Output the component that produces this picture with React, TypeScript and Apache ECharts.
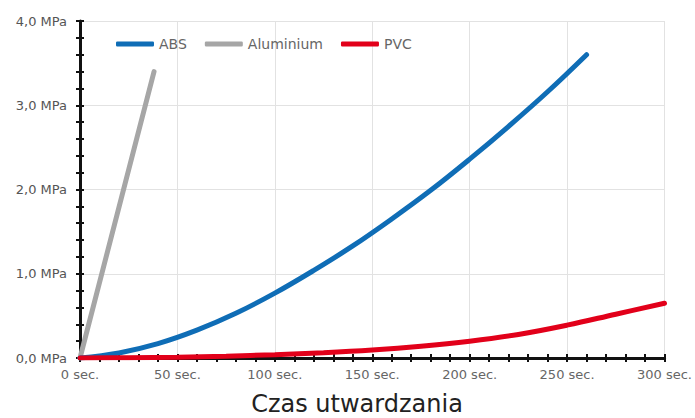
import React, { useEffect, useRef } from "react";
import * as echarts from "echarts";

const seriesNames = ["ABS", "Aluminium", "PVC"];
const seriesColors = ["#0f6db6", "#a6a6a6", "#e2001a"];

const absTime = [0, 20, 40, 60, 80, 100, 120, 140, 160, 180, 200, 220, 240, 260];
const absValues = [0, 0.06, 0.17, 0.33, 0.53, 0.77, 1.04, 1.33, 1.65, 1.99, 2.36, 2.75, 3.16, 3.6];

const aluTime = [0, 38];
const aluValues = [0, 3.4];

const pvcTime = [0, 25, 50, 75, 100, 125, 150, 175, 200, 225, 250, 275, 300];
const pvcValues = [0, 0.003, 0.01, 0.022, 0.04, 0.063, 0.095, 0.14, 0.2, 0.28, 0.39, 0.52, 0.65];

const xTickLabels = ["0 sec.", "50 sec.", "100 sec.", "150 sec.", "200 sec.", "250 sec.", "300 sec."];
const yTickLabels = ["0,0 MPa", "1,0 MPa", "2,0 MPa", "3,0 MPa", "4,0 MPa"];
const xAxisTitle = "Czas utwardzania";

const FONT = "DejaVu Sans";

const pairs = (xs: number[], ys: number[]) => xs.map((x, i) => [x, ys[i]]);

export default function App() {
  const ref = useRef<HTMLDivElement>(null);
  useEffect(() => {
    if (!ref.current) return;
    const chart = echarts.init(ref.current, null, { renderer: "svg" });
    const grid = { left: 80, right: 30, top: 21, bottom: 60 };
    const tickStyle = { color: "#111", width: 2 };
    chart.setOption({
      animation: false,
      backgroundColor: "#fff",
      grid,
      legend: {
        left: 111,
        top: 32,
        itemWidth: 38,
        itemHeight: 5,
        itemGap: 18,
        icon: "roundRect",
        data: seriesNames,
        textStyle: { fontFamily: FONT, fontSize: 14, color: "#666" },
      },
      graphic: [
        {
          type: "text",
          x: 357,
          y: 404,
          style: {
            text: xAxisTitle,
            fontFamily: FONT,
            fontSize: 24,
            lineHeight: 24,
            fill: "#222",
            align: "center",
            verticalAlign: "middle",
          },
        },
      ],
      xAxis: [
        {
          type: "value",
          min: 0,
          max: 300,
          interval: 50,
          axisLine: { show: true, lineStyle: { color: "#111", width: 3 } },
          axisTick: { show: true, inside: false, length: 4, lineStyle: tickStyle },
          minorTick: { show: true, splitNumber: 5, length: 4, lineStyle: tickStyle },
          splitLine: { show: true, lineStyle: { color: "#e2e2e2", width: 1 } },
          axisLabel: {
            margin: 10,
            fontFamily: FONT,
            fontSize: 13,
            color: "#666",
            formatter: (v: number) => xTickLabels[Math.round(v / 50)] ?? "",
          },
        },
        {
          type: "value",
          min: 0,
          max: 300,
          interval: 10,
          position: "bottom",
          axisLine: { show: false },
          axisTick: { show: true, inside: true, length: 4, lineStyle: tickStyle },
          splitLine: { show: false },
          axisLabel: { show: false },
        },
      ],
      yAxis: [
        {
          type: "value",
          min: 0,
          max: 4,
          interval: 1,
          axisLine: { show: true, lineStyle: { color: "#111", width: 3 } },
          axisTick: { show: true, inside: false, length: 4, lineStyle: tickStyle },
          minorTick: { show: true, splitNumber: 5, length: 4, lineStyle: tickStyle },
          splitLine: { show: true, lineStyle: { color: "#e2e2e2", width: 1 } },
          axisLabel: {
            margin: 13,
            fontFamily: FONT,
            fontSize: 13,
            color: "#555",
            formatter: (v: number) => yTickLabels[Math.round(v)] ?? "",
          },
        },
        {
          type: "value",
          min: 0,
          max: 4,
          interval: 0.2,
          position: "left",
          axisLine: { show: false },
          axisTick: { show: true, inside: true, length: 4, lineStyle: tickStyle },
          splitLine: { show: false },
          axisLabel: { show: false },
        },
      ],
      series: [
        {
          name: seriesNames[0],
          type: "line",
          smooth: 0.4,
          symbol: "none",
          data: pairs(absTime, absValues),
          color: seriesColors[0],
          lineStyle: { width: 5, color: seriesColors[0], cap: "round" },
          z: 3,
        },
        {
          name: seriesNames[1],
          type: "line",
          symbol: "none",
          data: pairs(aluTime, aluValues),
          color: seriesColors[1],
          lineStyle: { width: 5, color: seriesColors[1], cap: "round" },
          z: 2,
        },
        {
          name: seriesNames[2],
          type: "line",
          smooth: 0.4,
          symbol: "none",
          data: pairs(pvcTime, pvcValues),
          color: seriesColors[2],
          lineStyle: { width: 5, color: seriesColors[2], cap: "round" },
          z: 4,
        },
      ],
    });
    return () => chart.dispose();
  }, []);
  return (
    <div
      ref={ref}
      style={{ position: "absolute", left: 0, top: 0, width: 695, height: 418, background: "#fff" }}
    />
  );
}
